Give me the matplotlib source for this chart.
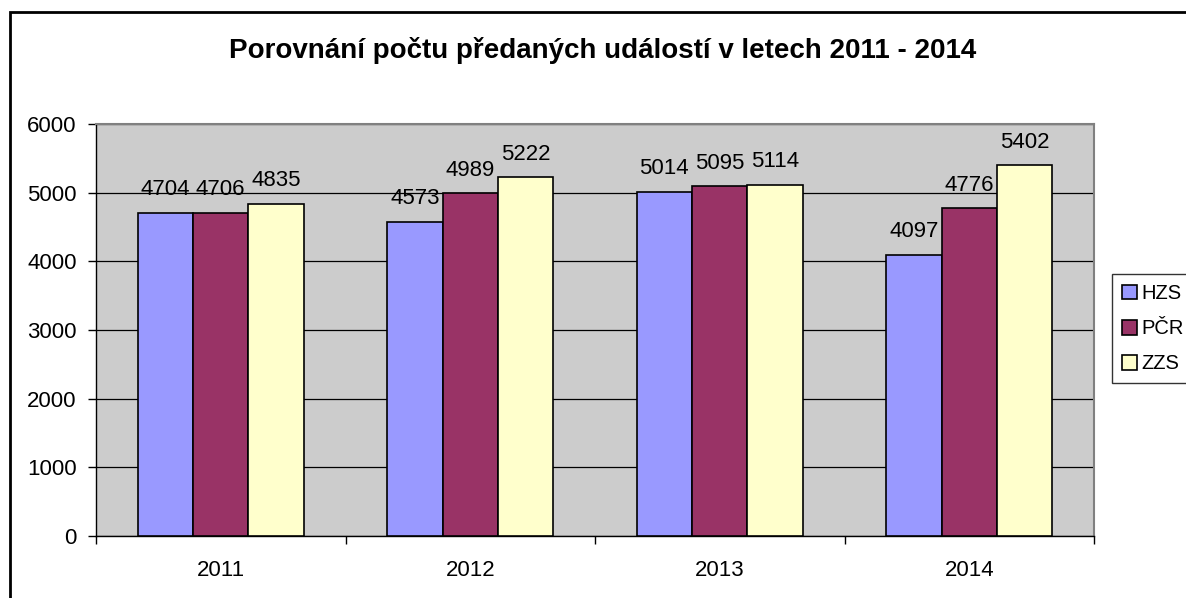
import matplotlib.pyplot as plt
import numpy as np
from matplotlib.patches import Rectangle

years = ["2011", "2012", "2013", "2014"]
series = ["HZS", "PČR", "ZZS"]
hzs = [4704, 4573, 5014, 4097]
pcr = [4706, 4989, 5095, 4776]
zzs = [4835, 5222, 5114, 5402]
colors = ["#9999ff", "#993366", "#ffffcc"]

plt.rcParams['font.family'] = ['Liberation Sans', 'DejaVu Sans']

fig = plt.figure(figsize=(11.86, 5.98), dpi=100)
ax = fig.add_axes([96 / 1186, 1 - 536 / 598, 998 / 1186, 412 / 598])
ax.set_facecolor("#cccccc")

# outer chart border (only top and left visible in the original)
fig.patches.append(Rectangle((10 / 1186, -0.1), 1.2, 1 - 12 / 598 + 0.1,
                             transform=fig.transFigure, fill=False,
                             edgecolor="black", linewidth=2))

fs = 16
x = np.arange(len(years))
width = 0.222
for i, (vals, name) in enumerate(zip([hzs, pcr, zzs], series)):
    pos = x + (i - 1) * width
    bars = ax.bar(pos, vals, width, color=colors[i], edgecolor="black",
                  linewidth=1.2, label=name, zorder=3)
    for b, v in zip(bars, vals):
        ax.annotate(str(v), (b.get_x() + b.get_width() / 2, v),
                    xytext=(0, 9), textcoords="offset points",
                    ha="center", va="bottom", fontsize=fs)

ax.set_xlim(-0.5, len(years) - 0.5)
ax.set_ylim(0, 6000)
ax.set_yticks(range(0, 6001, 1000))
ax.yaxis.grid(True, color="black", linewidth=0.9, zorder=0)
ax.set_axisbelow(True)

ax.set_xticks(x)
ax.set_xticklabels(years, fontsize=fs)
ax.set_xticks(np.arange(-0.5, len(years), 1), minor=True)
ax.tick_params(axis="x", which="major", length=0, pad=17)
ax.tick_params(axis="x", which="minor", length=6, width=1, direction="out")
ax.tick_params(axis="y", length=6, width=1, labelsize=fs, pad=8)

for s in ["top", "right"]:
    ax.spines[s].set_color("#808080")
    ax.spines[s].set_linewidth(1.5)
for s in ["left", "bottom"]:
    ax.spines[s].set_color("black")
    ax.spines[s].set_linewidth(1)

fig.text(603 / 1186, 1 - 50 / 598, "Porovnání počtu předaných událostí v letech 2011 - 2014",
         ha="center", va="center", fontsize=20, fontweight="bold")

leg = fig.legend(loc="upper left", bbox_to_anchor=(1112 / 1186, 1 - 274 / 598),
                 fontsize=14.5, frameon=True, fancybox=False, edgecolor="black",
                 handlelength=0.75, handleheight=0.75, handletextpad=0.2,
                 borderpad=0.5, labelspacing=0.8, borderaxespad=0)
leg.get_frame().set_linewidth(1)

fig.savefig("out.png", dpi=100)
